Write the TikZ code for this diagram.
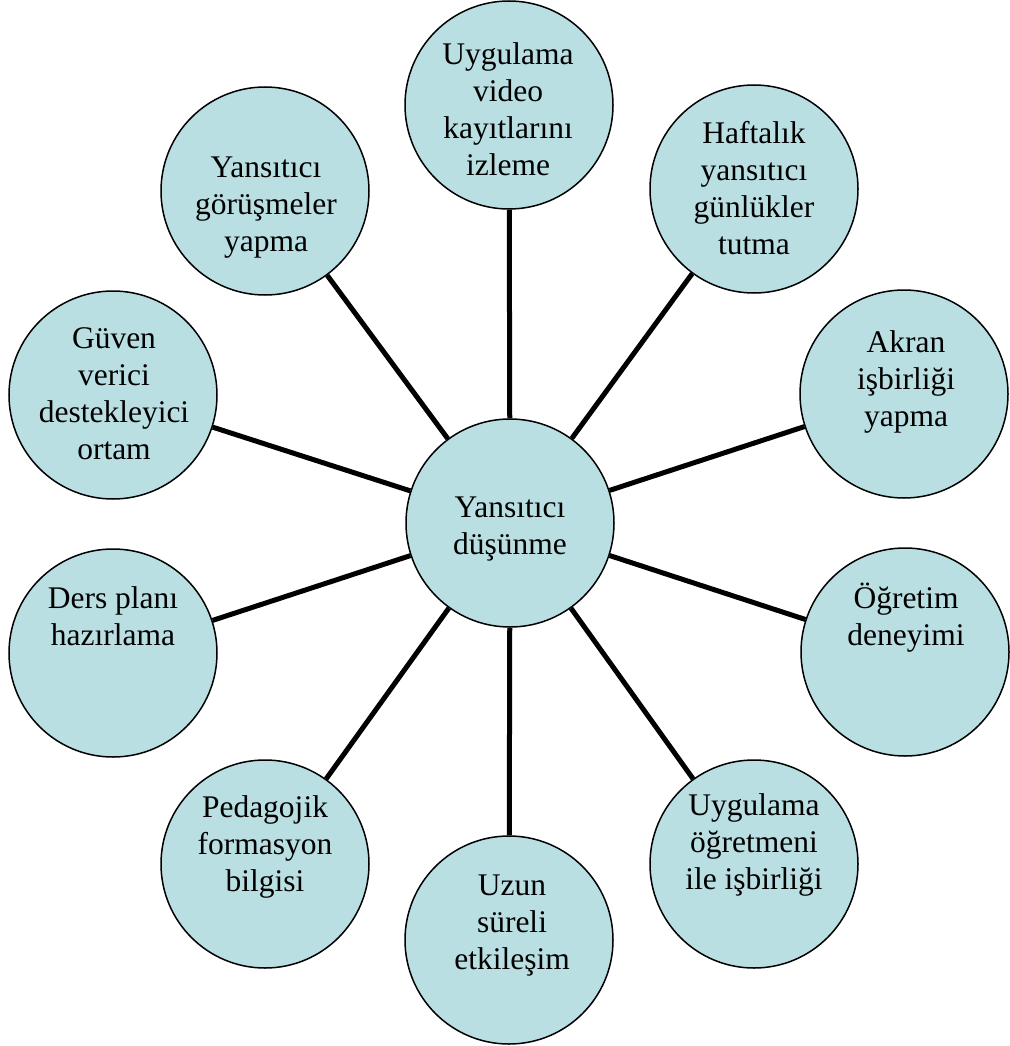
\documentclass[tikz,border=0pt]{standalone}
\usepackage{fontspec}
\setmainfont{Liberation Serif}
\definecolor{bubblefill}{RGB}{185,223,227}
\tikzset{
  bubble/.style={circle, draw=black, line width=1.5pt, fill=bubblefill,
                 minimum size=208pt, inner sep=0pt},
  txt/.style={anchor=base, inner sep=0pt, font=\fontsize{31.5}{37}\selectfont},
  spoke/.style={line width=5pt, draw=black}
}
% centred stack of lines whose baseline is the first line's baseline
\newcommand\linestack[1]{\begin{tabular}[t]{@{}c@{}}#1\end{tabular}}

\begin{document}
\begin{tikzpicture}[x=1pt, y=-1pt]
  \useasboundingbox (0,0) rectangle (1009,1046);

  % circles
  \node[bubble] (hub) at (510,523) {};
  \node[bubble] (video)   at (509,105) {};
  \node[bubble] (gunluk)  at (754,189) {};
  \node[bubble] (akran)   at (904,394) {};
  \node[bubble] (deneyim) at (905,652) {};
  \node[bubble] (ogretmen) at (754,864) {};
  \node[bubble] (uzun)    at (509,940) {};
  \node[bubble] (pedagoji) at (265,864) {};
  \node[bubble] (ders)    at (113,653) {};
  \node[bubble] (guven)   at (113,395) {};
  \node[bubble] (gorusme) at (265,191) {};

  % spokes from the hub
  \foreach \n in {video,gunluk,akran,deneyim,ogretmen,uzun,pedagoji,ders,guven,gorusme}
    \draw[spoke] (hub) -- (\n);

  % labels
  \node[txt] (hubT)      at (510,517) {\linestack{Yansıtıcı\\düşünme}};
  \node[txt] (videoT)    at (508,65)  {\linestack{Uygulama\\video\\kayıtlarını\\izleme}};
  \node[txt] (gunlukT)   at (754,143) {\linestack{Haftalık\\yansıtıcı\\günlükler\\tutma}};
  \node[txt] (akranT)    at (906,352) {\linestack{Akran\\işbirliği\\yapma}};
  \node[txt] (deneyimT)  at (906,608) {\linestack{Öğretim\\deneyimi}};
  \node[txt] (ogretmenT) at (754,815) {\linestack{Uygulama\\öğretmeni\\ile işbirliği}};
  \node[txt] (uzunT)     at (512,895) {\linestack{Uzun\\süreli\\etkileşim}};
  \node[txt] (pedagojiT) at (265,817) {\linestack{Pedagojik\\formasyon\\bilgisi}};
  \node[txt] (dersT)     at (113,608) {\linestack{Ders planı\\hazırlama}};
  \node[txt] (guvenT)    at (114,348) {\linestack{Güven\\verici\\destekleyici\\ortam}};
  \node[txt] (gorusmeT)  at (266,177) {\linestack{Yansıtıcı\\görüşmeler\\yapma}};
\end{tikzpicture}
\end{document}
